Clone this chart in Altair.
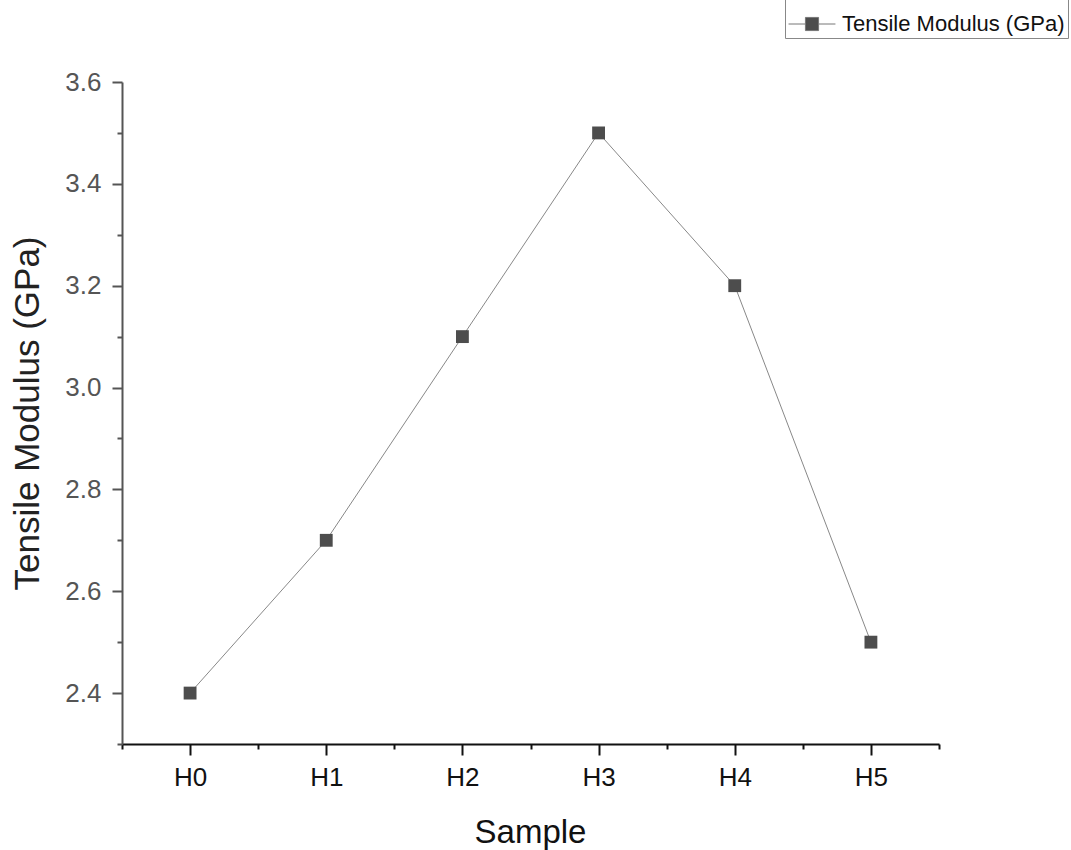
import altair as alt
import pandas as pd

samples = ["H0", "H1", "H2", "H3", "H4", "H5"]
modulus = [2.4, 2.7, 3.1, 3.5, 3.2, 2.5]
series_name = "Tensile Modulus (GPa)"

df = pd.DataFrame({
    "idx": list(range(len(samples))),
    "sample": samples,
    "modulus": modulus,
    "series": [series_name] * len(samples),
})

FONT = "Liberation Sans"
x_vals = [i * 0.5 - 0.5 for i in range(13)]
y_vals = [round(2.3 + 0.1 * i, 1) for i in range(14)]

x_enc = alt.X(
    "idx:Q",
    scale=alt.Scale(domain=[-0.5, 5.5], nice=False, zero=False),
    axis=alt.Axis(
        values=x_vals,
        labelExpr="datum.value % 1 == 0 ? 'H' + datum.value : ''",
        tickSize={"condition": {"test": "datum.value % 1 == 0", "value": 11}, "value": 5},
        tickWidth=2, tickColor="#111", domainColor="#111", domainWidth=2,
        labelFont=FONT, labelFontSize=26, labelColor="#111",
        labelPadding=30, labelBaseline="alphabetic", labelFlush=False,
        grid=False,
        title="Sample", titleFont=FONT, titleFontSize=33, titleFontWeight="normal",
        titleColor="#111", titleX=408, titleY=98, titleBaseline="alphabetic",
        titleAlign="center",
    ),
)

y_enc = alt.Y(
    "modulus:Q",
    scale=alt.Scale(domain=[2.3, 3.6], nice=False, zero=False),
    axis=alt.Axis(
        values=y_vals,
        labelExpr="(round(datum.value*10) % 2 == 0 && datum.value > 2.35) ? format(datum.value, '.1f') : ''",
        tickSize={"condition": {"test": "round(datum.value*10) % 2 == 0", "value": 10}, "value": 5},
        tickWidth=2, tickColor="#555", domainColor="#555", domainWidth=2,
        labelFont=FONT, labelFontSize=26, labelColor="#555",
        labelPadding=11, labelFlush=False,
        grid=False,
        title="Tensile Modulus (GPa)", titleFont=FONT, titleFontSize=35,
        titleFontWeight="normal", titleColor="#222", titleX=-84, titleY=331,
        titleBaseline="alphabetic", titleAlign="center", titleAngle=270,
    ),
)

line = alt.Chart(df).mark_line(color="#888", strokeWidth=1).encode(x=x_enc, y=y_enc)

points = alt.Chart(df).mark_point(shape="square", filled=True, size=165, opacity=1).encode(
    x="idx:Q",
    y="modulus:Q",
    color=alt.Color(
        "series:N",
        scale=alt.Scale(range=["#4d4d4d"]),
        legend=alt.Legend(
            title=None, orient="none", legendX=663, legendY=-85,
            symbolType="M-1,0L-0.28,0M0.28,0L1,0M-0.28,-0.28L0.28,-0.28L0.28,0.28L-0.28,0.28Z",
            symbolSize=2200, symbolStrokeColor="#777", symbolStrokeWidth=1,
            symbolFillColor="#4d4d4d", symbolOpacity=1,
            labelFont=FONT, labelFontSize=22, labelColor="#111", labelOffset=6,
            strokeColor="#888", padding=3, labelLimit=400,
        ),
    ),
)

chart = alt.layer(line, points).properties(
    width=817, height=662,
    autosize=alt.AutoSizeParams(type="none"),
    padding={"left": 122, "top": 82, "right": 132, "bottom": 106},
    background="white",
).configure_view(stroke=None, strokeWidth=0)

chart.save("out.html", embed_options={"renderer": "svg", "actions": False})
